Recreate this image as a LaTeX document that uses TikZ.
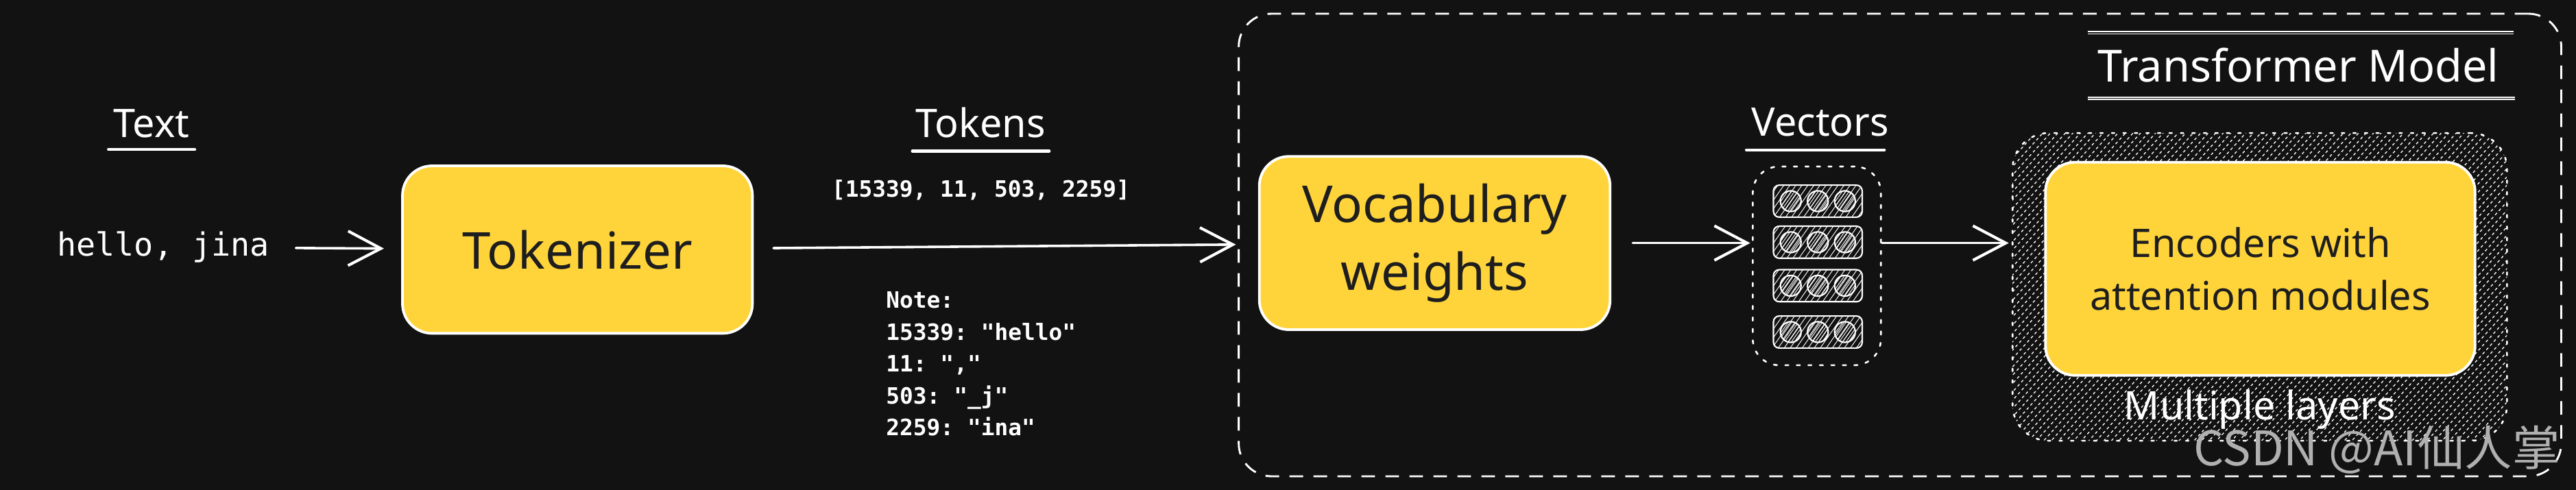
\documentclass[tikz,border=0pt]{standalone}
\usepackage{fontspec}
\setmainfont{Noto Sans}
\setmonofont{DejaVu Sans Mono}
\newfontfamily\cjkfont{Noto Sans CJK SC}
\usetikzlibrary{arrows.meta, patterns.meta}
\definecolor{bgc}{HTML}{121212}
\definecolor{boxyellow}{HTML}{FFD43B}
\definecolor{boxtext}{HTML}{1E1E1E}
\definecolor{wmgray}{HTML}{B0B0B0}

\begin{document}
\begin{tikzpicture}[x=1pt, y=-1pt,
    stagebox/.style={draw=white, line width=1.6pt, fill=boxyellow, rounded corners=18pt, text=boxtext, align=center, inner sep=0pt},
    lbl/.style={text=white, font=\fontsize{24}{29}\selectfont, inner sep=0pt},
    uline/.style={white, line width=1.8pt, line cap=round},
    dline/.style={white, line width=0.8pt, double=bgc, double distance=0.5pt},
    arr/.style={white, line width=1.5pt, line cap=round, -{Straight Barb[length=20pt,width=21pt,line width=1.7pt]}},
    dotbox/.style={draw=white, line width=1.1pt, dash pattern=on 2pt off 5pt, line cap=round},
    hatch/.style={pattern={Lines[angle=#1,distance=3pt,line width=0.4pt]}, pattern color=white},
    vecrow/.style={draw=white, line width=0.9pt, rounded corners=3.5pt, hatch=55, inner sep=0pt}
]
    % Background
    \useasboundingbox (0,0) rectangle (1568,298.4);
    \fill[bgc] (0,0) rectangle (1568,298.4);

    % Transformer model frame
    \node[draw=white, line width=1.2pt, dash pattern=on 8.3pt off 6.3pt, rounded corners=20pt,
          minimum width=805pt, minimum height=281.7pt, inner sep=0pt] (model) at (1156.5,149.2) {};
    \node[lbl, font=\fontsize{27}{32}\selectfont, anchor=base] (title) at (1399,49.9) {Transformer Model};
    \draw[dline] (1271,20) -- (1530,20);
    \draw[dline] (1271,59.9) -- (1531,59.9);

    % Input text
    \node[lbl, anchor=base] (txtlbl) at (92.3,83.5) {Text};
    \draw[uline] ([xshift=-3pt,yshift=-7.5pt]txtlbl.base west) -- ([xshift=3pt,yshift=-7.5pt]txtlbl.base east);
    \node[text=white, font=\ttfamily\fontsize{19.5}{24}\selectfont, anchor=base west, inner sep=0pt] (hello) at (34.6,156) {hello, jina};

    % Tokenizer
    \node[stagebox, minimum width=213pt, minimum height=102pt, font=\fontsize{31}{41}\selectfont] (tok) at (351.5,152) {Tokenizer};

    % Tokens
    \node[lbl, anchor=base] (toklbl) at (597,83.5) {Tokens};
    \draw[uline] ([xshift=-2pt,yshift=-8.5pt]toklbl.base west) -- ([xshift=2pt,yshift=-8.5pt]toklbl.base east);
    \node[text=white, font=\ttfamily\bfseries\fontsize{13.7}{19.4}\selectfont, anchor=base, inner sep=0pt] (ids) at (597,120) {[15339, 11, 503, 2259]};
    \node[text=white, font=\ttfamily\bfseries\fontsize{13.7}{19.4}\selectfont, align=left, anchor=north west, inner sep=0pt] (note) at (539.2,177.5)
        {Note:\\15339: "hello"\\11: ","\\503: "\_j"\\2259: "ina"};

    % Vocabulary weights
    \node[stagebox, minimum width=213.5pt, minimum height=105.5pt, font=\fontsize{31}{41}\selectfont] (voc) at (873.3,148) {Vocabulary\\weights};

    % Vectors
    \node[lbl, anchor=base] (veclbl) at (1108,82.8) {Vectors};
    \draw[uline] ([xshift=-3pt,yshift=-8.5pt]veclbl.base west) -- ([xshift=-3pt,yshift=-8.5pt]veclbl.base east);
    \node[dotbox, rounded corners=16pt, minimum width=78pt, minimum height=121pt, inner sep=0pt] (vec) at (1105.9,161.9) {};
    \foreach \y [count=\i] in {122.5, 147.5, 174, 202.2} {
        \node[vecrow, minimum width=54pt, minimum height=19.5pt] (row\i) at (1106.5,\y) {};
        \foreach \dx in {-16.5, 0, 16.5}
            \draw[white, line width=0.9pt, pattern={Lines[angle=55,distance=1.7pt,line width=0.4pt]}, pattern color=white]
                ([xshift=\dx pt]row\i.center) circle (6.3pt);
    }

    % Encoder layers
    \node[dotbox, dash pattern=on 1.6pt off 5.4pt, rounded corners=22pt, minimum width=301pt, minimum height=187.4pt, inner sep=0pt,
          pattern={Lines[angle=48,distance=3.4pt,line width=0.55pt]}, pattern color=white] (lay) at (1375.5,174.7) {};
    \node[stagebox, minimum width=261.5pt, minimum height=129.8pt, font=\fontsize{24}{32.4}\selectfont] (enc) at (1375.8,163.7) {Encoders with\\attention modules};
    \node[lbl, anchor=base] (mult) at (1375.5,255.7) {Multiple layers};

    % Arrows
    \draw[arr, shorten <=16pt, shorten >=10.5pt] (hello) -- (tok);
    \draw[arr, shorten <=12pt, shorten >=13.5pt] (tok) -- (voc);
    \draw[arr, shorten <=13pt, shorten >=1pt] (voc.east) -- (voc.east -| vec.west);
    \draw[arr, shorten >=2pt] (vec.east |- voc.east) -- (lay.west |- voc.east);

    % Watermark
    \node[text=wmgray, font=\cjkfont\fontsize{29}{35}\selectfont, anchor=base west, inner sep=0pt] (wm) at (1335,283.5) {CSDN @AI仙人掌};
\end{tikzpicture}
\end{document}
